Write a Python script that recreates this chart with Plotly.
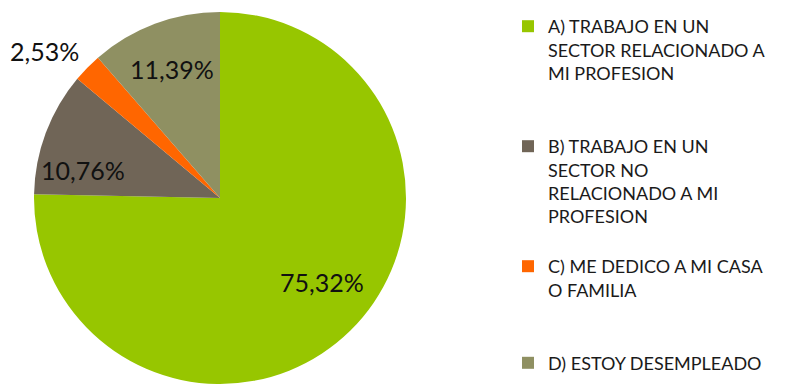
import math
import plotly.graph_objects as go

# Survey answers and their shares (%)
categories = [
    "A) TRABAJO EN UN<br>SECTOR RELACIONADO A<br>MI PROFESION",
    "B) TRABAJO EN UN<br>SECTOR NO<br>RELACIONADO A MI<br>PROFESION",
    "C) ME DEDICO A MI CASA<br>O FAMILIA",
    "D) ESTOY DESEMPLEADO",
]
values = [75.32, 10.76, 2.53, 11.39]
colors = ["#97C600", "#706557", "#FF6600", "#8F9062"]

# Blank lines appended to each legend entry to spread entries down the column
legend_padding = [2, 1, 2, 0]

W, H = 810, 387
cx, cy, r = 220, 198, 186  # pie centre and radius in pixels

legend_labels = [c + "<br> " * n for c, n in zip(categories, legend_padding)]

fig = go.Figure(
    go.Pie(
        labels=legend_labels,
        values=values,
        marker=dict(colors=colors, line=dict(width=0)),
        sort=False,
        direction="clockwise",
        rotation=0,
        textinfo="none",
        hoverinfo="percent",
        domain=dict(x=[(cx - r) / W, (cx + r) / W], y=[(H - cy - r) / H, (H - cy + r) / H]),
    )
)

# Percentage labels: placed around each slice's mid-angle, nudged by a
# small angular offset and set at a fraction of the radius
label_font = dict(family="Lato, 'DejaVu Sans', sans-serif", size=25, color="#111111")
radial = [0.71, 0.75, 1.23, 0.74]
angle_shift = [-6, -9, -4.5, 0]
total = sum(values)
cum = 0.0
annotations = []
for v, k, da in zip(values, radial, angle_shift):
    mid = (cum + v / 2) / total * 2 * math.pi + math.radians(da)
    cum += v
    px = cx + k * r * math.sin(mid)
    py = cy - k * r * math.cos(mid)
    annotations.append(
        dict(
            x=px / W, y=1 - py / H, xref="paper", yref="paper",
            text=f"{v:.2f}".replace(".", ",") + "%",
            showarrow=False, font=label_font, xanchor="center", yanchor="middle",
        )
    )

fig.update_layout(
    width=W, height=H,
    margin=dict(l=0, r=0, t=0, b=0),
    paper_bgcolor="white",
    plot_bgcolor="white",
    showlegend=True,
    legend=dict(
        x=508 / W, y=1 - 8 / H, xanchor="left", yanchor="top",
        font=dict(family="Lato, 'DejaVu Sans', sans-serif", size=18, color="#1a1a1a"),
        valign="top",
        itemwidth=30,
        tracegroupgap=0,
    ),
    annotations=annotations,
)

fig.write_html("out.html")
